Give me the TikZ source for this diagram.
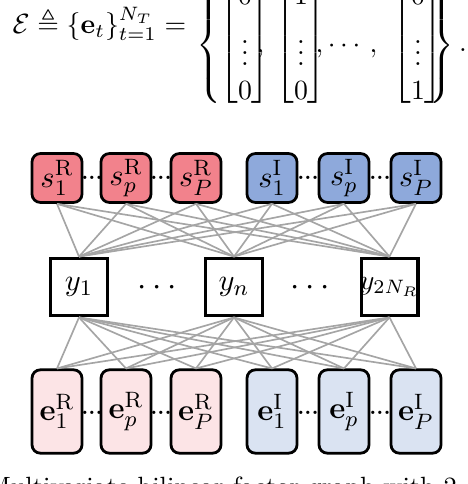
\documentclass[tikz,border=0pt]{standalone}
\usepackage{amsmath}
\usepackage{amssymb}
\definecolor{sred}{RGB}{242,130,140}
\definecolor{sblue}{RGB}{142,169,219}
\definecolor{ered}{RGB}{252,228,230}
\definecolor{eblue}{RGB}{218,227,242}
\definecolor{linkgray}{RGB}{165,165,165}
\newcommand{\myvec}[2]{\begin{bmatrix}#1\\[3.6pt]\vdots\\#2\end{bmatrix}}
\begin{document}
\begin{tikzpicture}[x=0.36pt,y=-0.36pt,
  dfont/.style={font=\fontsize{11}{13}\selectfont},
  eq/.style={inner sep=0pt},
  sbox/.style={draw=black,line width=1pt,rounded corners=3pt,minimum width=18pt,minimum height=17.6pt,inner sep=0pt,dfont},
  ebox/.style={sbox,minimum height=30pt},
  ybox/.style={draw=black,line width=1.1pt,minimum width=20.5pt,minimum height=20.8pt,inner sep=0pt,dfont},
  link/.style={draw=linkgray,line width=0.6pt},
  sdots/.style={font=\fontsize{7.5}{9}\selectfont\bfseries,inner sep=0pt},
  mdots/.style={font=\fontsize{13}{15}\selectfont,inner sep=0pt}
]
\useasboundingbox (0,0) rectangle (468,484);
\clip (0,0) rectangle (468,484);

% equation (cropped at top)
\node[eq,anchor=base west] (eqL) at (12,33) {$\mathcal{E}\triangleq\{\mathbf{e}_t\}_{t=1}^{N_T}=$};
\node[eq,anchor=west] (lb) at (196,45) {$\left\{\vphantom{\myvec{0}{0}}\right.$};
\node[eq,anchor=west] (m1) at (219,45) {$\myvec{0}{0}$};
\node[eq,anchor=base west] (c1) at (256,52) {$,$};
\node[eq,anchor=west] (m2) at (275,45) {$\myvec{1}{0}$};
\node[eq,anchor=base west] (c2) at (315,52) {$,\cdots,$};
\node[eq,anchor=west] (m3) at (392,45) {$\myvec{0}{1}$};
\node[eq,anchor=west] (rb) at (426,45) {$\left.\vphantom{\myvec{0}{0}}\right\}.$};

% top row
\node[sbox,fill=sred] (sR1) at (57,178) {$s_1^{\mathrm{R}}$};
\node[sbox,fill=sred] (sRp) at (126,178) {$s_p^{\mathrm{R}}$};
\node[sbox,fill=sred] (sRP) at (196,178) {$s_P^{\mathrm{R}}$};
\node[sbox,fill=sblue] (sI1) at (272,178) {$s_1^{\mathrm{I}}$};
\node[sbox,fill=sblue] (sIp) at (344,178) {$s_p^{\mathrm{I}}$};
\node[sbox,fill=sblue] (sIP) at (416,178) {$s_P^{\mathrm{I}}$};
\node[sdots] (d1) at (92,178) {...};
\node[sdots] (d2) at (161,178) {...};
\node[sdots] (d3) at (308,178) {...};
\node[sdots] (d4) at (380,178) {...};

% middle row
\node[ybox] (y1) at (79,287) {$y_1$};
\node[ybox] (yn) at (234,287) {$y_n$};
\node[ybox] (yN) at (389.5,287) {\makebox[18pt]{\fontsize{10}{12}\selectfont$y_{2N_R}$}};
\node[mdots] (m1d) at (160,288) {$\cdots$};
\node[mdots] (m2d) at (313,288) {$\cdots$};

% bottom row
\node[ebox,fill=ered] (eR1) at (57,411.5) {$\mathbf{e}_1^{\mathrm{R}}$};
\node[ebox,fill=ered] (eRp) at (126,411.5) {$\mathbf{e}_p^{\mathrm{R}}$};
\node[ebox,fill=ered] (eRP) at (196,411.5) {$\mathbf{e}_P^{\mathrm{R}}$};
\node[ebox,fill=eblue] (eI1) at (272,411.5) {$\mathbf{e}_1^{\mathrm{I}}$};
\node[ebox,fill=eblue] (eIp) at (344,411.5) {$\mathbf{e}_p^{\mathrm{I}}$};
\node[ebox,fill=eblue] (eIP) at (416,411.5) {$\mathbf{e}_P^{\mathrm{I}}$};
\node[sdots] (b1) at (92,413) {...};
\node[sdots] (b2) at (161,413) {...};
\node[sdots] (b3) at (308,413) {...};
\node[sdots] (b4) at (380,413) {...};

% connectors
\foreach \s in {sR1,sRp,sRP,sI1,sIp,sIP}
  \foreach \y in {y1,yn,yN}
    \draw[link] (\s.south) -- (\y.north);
\foreach \y in {y1,yn,yN}
  \foreach \e in {eR1,eRp,eRP,eI1,eIp,eIP}
    \draw[link] (\y.south) -- (\e.north);

% caption (cropped at bottom)
\node[eq,anchor=base west,font=\fontsize{9.5}{11}\selectfont] (cap) at (-14,495) {Multivariate bilinear factor graph with 2};
\end{tikzpicture}
\end{document}
